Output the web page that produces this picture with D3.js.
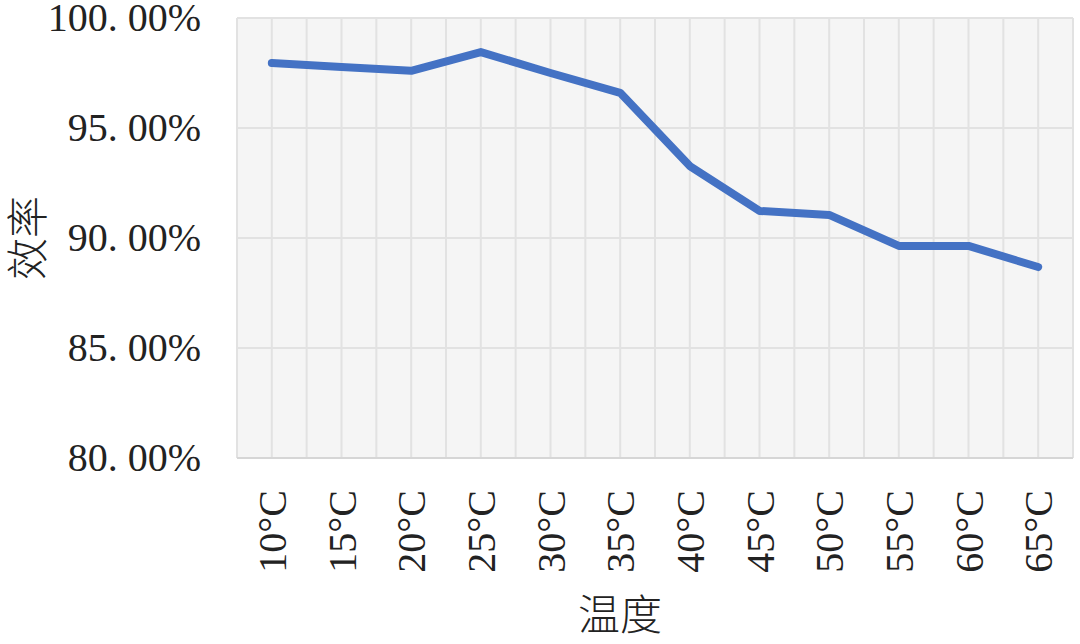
<!DOCTYPE html>
<html><head><meta charset="utf-8">
<script src="https://cdn.jsdelivr.net/npm/d3@7"></script>
<style>body{margin:0;background:#fff;} svg{display:block;}</style>
</head><body>
<svg id="c" width="1080" height="644"></svg>
<script>
const categories = ["10°C","15°C","20°C","25°C","30°C","35°C","40°C","45°C","50°C","55°C","60°C","65°C"];
const efficiency = [0.9795,0.9777,0.9760,0.9845,0.9750,0.9660,0.9327,0.9123,0.9105,0.8964,0.8964,0.8868];
const yTicks = [0.80,0.85,0.90,0.95,1.00];
const xTitle = "温度", yTitle = "效率";

const svg = d3.select("#c");
const m = {l:237, r:1073, t:18, b:458};
const x = d3.scaleBand().domain(categories).range([m.l, m.r]).padding(0);
const y = d3.scaleLinear().domain([0.80,1.00]).range([m.b, m.t]);

svg.append("rect").attr("x",m.l).attr("y",m.t).attr("width",m.r-m.l).attr("height",m.b-m.t).attr("fill","#f5f5f5");

// vertical gridlines at band edges and centers
const vx = [];
categories.forEach(c=>{vx.push(x(c)); vx.push(x(c)+x.bandwidth()/2);});
vx.push(m.r);
svg.append("g").selectAll("line").data(vx).join("line")
  .attr("x1",d=>d).attr("x2",d=>d).attr("y1",m.t).attr("y2",m.b)
  .attr("stroke","#e2e2e2").attr("stroke-width",2);
svg.append("g").selectAll("line").data(yTicks).join("line")
  .attr("x1",m.l).attr("x2",m.r).attr("y1",d=>y(d)).attr("y2",d=>y(d))
  .attr("stroke","#e2e2e2").attr("stroke-width",2);
svg.append("line").attr("x1",m.l).attr("x2",m.r).attr("y1",m.b).attr("y2",m.b).attr("stroke","#d6d6d6").attr("stroke-width",2);

// y axis labels
const yAxis = d3.axisLeft(y).tickValues(yTicks).tickSize(0).tickPadding(0)
  .tickFormat(d=>d3.format(".2%")(d).replace(".",". "));
const ga = svg.append("g").attr("transform",`translate(201,0)`).call(yAxis);
ga.select(".domain").remove();
ga.selectAll("text").attr("font-family","'Liberation Serif',serif").attr("font-size",40).attr("fill","#222").attr("dy","0.32em");

// x axis labels
const xAxis = d3.axisBottom(x).tickSize(0).tickPadding(0);
const gx = svg.append("g").call(xAxis);
gx.select(".domain").remove();
gx.selectAll(".tick").attr("transform",d=>`translate(${x(d)+x.bandwidth()/2},0)`);
gx.selectAll("text").attr("transform","translate(0,490) rotate(-90)")
  .attr("text-anchor","end").attr("dy","0.35em").attr("y",0).attr("x",0)
  .attr("font-family","'Liberation Serif',serif").attr("font-size",40).attr("fill","#222");

// line
svg.append("path").datum(efficiency)
  .attr("d", d3.line().x((d,i)=>x(categories[i])+x.bandwidth()/2).y(d=>y(d)))
  .attr("fill","none").attr("stroke","#4472c4").attr("stroke-width",8)
  .attr("stroke-linecap","round").attr("stroke-linejoin","round");

// titles
svg.append("text").attr("x",620).attr("y",630).attr("text-anchor","middle")
  .attr("font-family","'Noto Sans CJK SC',sans-serif").attr("font-weight",300).attr("font-size",42).attr("fill","#222").text(xTitle);
svg.append("text").attr("transform","translate(43,238) rotate(-90)").attr("text-anchor","middle")
  .attr("font-family","'Noto Sans CJK SC',sans-serif").attr("font-weight",300).attr("font-size",42).attr("fill","#222").text(yTitle);
</script>
</body></html>
